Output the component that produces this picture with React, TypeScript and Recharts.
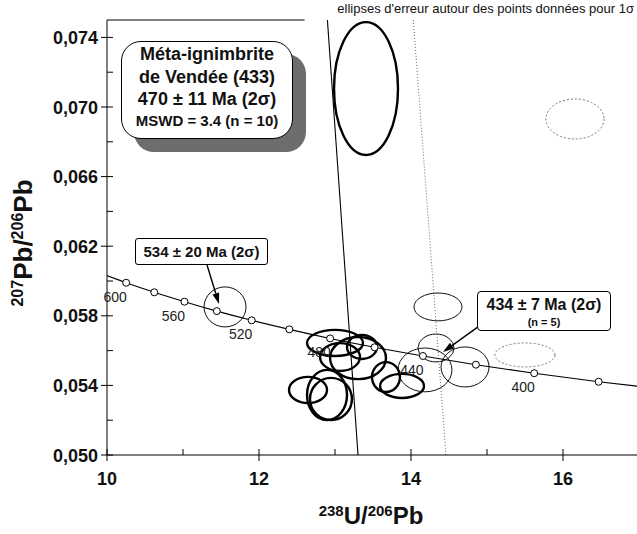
import React from 'react';
import { ComposedChart, Line, Scatter, XAxis, YAxis, ReferenceArea, ReferenceLine, ReferenceDot } from 'recharts';

// concordia (Tera-Wasserburg), ages in Ma
const concordiaAge = [620, 600, 580, 560, 540, 520, 500, 480, 460, 440, 420, 400, 380, 360];
const concordiaU = [9.906, 10.252, 10.622, 11.019, 11.445, 11.904, 12.399, 12.936, 13.52, 14.157, 14.854, 15.621, 16.469, 17.411];
const concordiaPb = [0.06046, 0.0599, 0.05935, 0.05881, 0.05827, 0.05774, 0.05722, 0.0567, 0.05619, 0.05569, 0.05519, 0.0547, 0.05421, 0.05374];
const labelledAges = [600, 560, 520, 480, 440, 400];
const markerAges = [600, 580, 560, 540, 520, 500, 480, 460, 440, 420, 400, 380];

// ellipses: [centre U/Pb, centre Pb/Pb, half width, half height]
const grains470: number[][] = [
  [13.408, 0.07106, 0.421, 0.00382],
  [13.0, 0.05644, 0.368, 0.00075],
  [13.066, 0.05563, 0.263, 0.0008],
  [13.303, 0.05557, 0.368, 0.00121],
  [13.355, 0.05621, 0.197, 0.00069],
  [12.645, 0.05374, 0.25, 0.00075],
  [12.895, 0.05345, 0.263, 0.00144],
  [12.947, 0.05322, 0.276, 0.00121],
  [13.671, 0.05448, 0.184, 0.00086],
  [13.882, 0.05397, 0.289, 0.00069],
];
const grains434: number[][] = [
  [14.355, 0.05851, 0.316, 0.0008],
  [14.329, 0.05615, 0.237, 0.0008],
  [14.184, 0.05489, 0.355, 0.00126],
  [14.711, 0.05506, 0.316, 0.00115],
];
const grain534: number[][] = [[11.553, 0.05851, 0.276, 0.00115]];
const grainsRejected: number[][] = [
  [15.5, 0.05575, 0.395, 0.00069],
  [16.158, 0.06931, 0.382, 0.00115],
];

const discordia470 = [{ x: 12.9, y: 0.075 }, { x: 13.303, y: 0.05 }];
const discordia434 = [{ x: 14.03, y: 0.075 }, { x: 14.46, y: 0.05 }];
const frameTop = [{ x: 10, y: 0.075 }, { x: 12.6, y: 0.075 }];
const arrow534 = [{ x: 11.316, y: 0.06092 }, { x: 11.474, y: 0.05868 }];
const arrow434 = [{ x: 14.882, y: 0.05736 }, { x: 14.421, y: 0.05592 }];

const xTicks = [10, 11, 12, 13, 14, 15, 16, 17];
const yTicks = [0.05, 0.052, 0.054, 0.056, 0.058, 0.06, 0.062, 0.064, 0.066, 0.068, 0.07, 0.072, 0.074];

const FONT = '"Liberation Sans", Arial, Helvetica, sans-serif';

const curve = concordiaAge.map((a, i) => ({ age: a, x: concordiaU[i], y: concordiaPb[i] }));
const markers = curve.filter((d) => markerAges.includes(d.age));
const ageLabels = curve.filter((d) => labelledAges.includes(d.age));

function YTick(props: any) {
  const { x, y, payload } = props;
  const v = payload.value;
  const major = Math.round(v * 1000) % 4 === 2;
  return (
    <g>
      <line x1={major ? x - 6 : x} x2={x + 6} y1={y} y2={y} stroke="#000" strokeWidth={1} />
      {major && (
        <text x={x - 9} y={y + 6.5} textAnchor="end" fontSize={18} fontWeight="bold" fill="#111" fontFamily={FONT}>
          {v.toFixed(3).replace('.', ',')}
        </text>
      )}
    </g>
  );
}

function XTick(props: any) {
  const { x, y, payload } = props;
  const v = payload.value;
  const major = v % 2 === 0;
  return (
    <g>
      <line x1={x} x2={x} y1={y - 6} y2={major ? y + 6 : y} stroke="#000" strokeWidth={1} />
      {major && (
        <text x={x} y={y + 30} textAnchor="middle" fontSize={18} fontWeight="bold" fill="#111" fontFamily={FONT}>
          {v}
        </text>
      )}
    </g>
  );
}

const ellipseShape = (stroke: string, sw: number, dash?: string) => (p: any) => (
  <ellipse
    cx={p.x + p.width / 2}
    cy={p.y + p.height / 2}
    rx={Math.abs(p.width) / 2}
    ry={Math.abs(p.height) / 2}
    fill="none"
    stroke={stroke}
    strokeWidth={sw}
    strokeDasharray={dash}
  />
);

const Arrow = (p: any) => {
  const { x1, y1, x2, y2 } = p;
  const a = Math.atan2(y2 - y1, x2 - x1);
  const L = 11;
  const w = 3.5;
  const bx = x2 - L * Math.cos(a);
  const by = y2 - L * Math.sin(a);
  const pts = `${x2},${y2} ${bx + w * Math.sin(a)},${by - w * Math.cos(a)} ${bx - w * Math.sin(a)},${by + w * Math.cos(a)}`;
  return (
    <g>
      <line x1={x1} y1={y1} x2={bx} y2={by} stroke="#000" strokeWidth={1.4} />
      <polygon points={pts} fill="#000" />
    </g>
  );
};

const MarkerShape = (p: any) => <circle cx={p.cx} cy={p.cy} r={3.5} fill="#fff" stroke="#000" strokeWidth={1} />;

const ageLabel = (text: string) => (p: any) => (
  <text x={p.cx - 11} y={p.cy + 19} textAnchor="middle" fontSize={14} fill="#222" fontFamily={FONT}>
    {text}
  </text>
);

function ellipses(list: number[][], key: string, shape: any) {
  return list.map((e, i) => (
    <ReferenceArea
      key={key + i}
      x1={e[0] - e[2]}
      x2={e[0] + e[2]}
      y1={e[1] - e[3]}
      y2={e[1] + e[3]}
      ifOverflow="visible"
      shape={shape}
    />
  ));
}

const YTitle = () => (
  <text transform="translate(32,243) rotate(-90)" textAnchor="middle" fontWeight="bold" fill="#111" fontFamily={FONT}>
    <tspan fontSize={16} dy={-9}>207</tspan>
    <tspan fontSize={26} dy={9}>Pb/</tspan>
    <tspan fontSize={16} dy={-9}>206</tspan>
    <tspan fontSize={26} dy={9}>Pb</tspan>
  </text>
);

const XTitle = () => (
  <text x={371} y={524} textAnchor="middle" fontWeight="bold" fill="#111" fontFamily={FONT}>
    <tspan fontSize={15} dy={-8}>238</tspan>
    <tspan fontSize={24} dy={8}>U/</tspan>
    <tspan fontSize={15} dy={-8}>206</tspan>
    <tspan fontSize={24} dy={8}>Pb</tspan>
  </text>
);

export default function App() {
  return (
    <div style={{ position: 'absolute', left: 0, top: 0, width: 637, height: 534, overflow: 'hidden', background: '#fff', fontFamily: FONT }}>
      <ComposedChart width={641} height={534} margin={{ top: 20, right: 2, bottom: 0, left: 0 }}>
        <XAxis
          type="number"
          dataKey="x"
          domain={[10, 17]}
          ticks={xTicks}
          interval={0}
          allowDataOverflow
          height={79}
          tickSize={0}
          tickMargin={0}
          tick={<XTick />}
          stroke="#000"
          label={{ content: () => <XTitle /> }}
        />
        <YAxis
          type="number"
          dataKey="y"
          domain={[0.05, 0.075]}
          ticks={yTicks}
          interval={0}
          allowDataOverflow
          width={107}
          tickSize={0}
          tickMargin={0}
          tick={<YTick />}
          stroke="#000"
          label={{ content: () => <YTitle /> }}
        />
        <ReferenceLine segment={frameTop} stroke="#000" strokeWidth={1} ifOverflow="visible" />
        <ReferenceLine segment={discordia470} stroke="#000" strokeWidth={1.1} ifOverflow="visible" />
        <ReferenceLine segment={discordia434} stroke="#555" strokeWidth={0.9} strokeDasharray="1 2" ifOverflow="visible" />
        <Line data={curve} dataKey="y" type="monotone" stroke="#000" strokeWidth={1.1} dot={false} isAnimationActive={false} />
        {ageLabels.map((d) => (
          <ReferenceDot key={'l' + d.age} x={d.x} y={d.y} r={0} ifOverflow="visible" shape={ageLabel(String(d.age))} />
        ))}
        {ellipses(grainsRejected, 'r', ellipseShape('#777', 1, '2 2'))}
        {ellipses(grain534, 'o', ellipseShape('#111', 1))}
        {ellipses(grains434, 't', ellipseShape('#111', 1))}
        {ellipses(grains470, 'm', ellipseShape('#000', 2.4))}
        <Scatter data={markers} dataKey="y" shape={<MarkerShape />} isAnimationActive={false} />
        <ReferenceLine segment={arrow534} ifOverflow="visible" shape={<Arrow />} />
        <ReferenceLine segment={arrow434} ifOverflow="visible" shape={<Arrow />} />
      </ComposedChart>

      <div style={{ position: 'absolute', right: 3, top: 2, fontSize: 13, lineHeight: '14px', color: '#111', background: '#fff', whiteSpace: 'nowrap' }}>
        ellipses d'erreur autour des points données pour 1σ
      </div>

      <div
        style={{
          position: 'absolute', left: 121, top: 41, width: 172, height: 98, boxSizing: 'border-box',
          border: '1.5px solid #000', borderRadius: 20, background: '#fff', boxShadow: '13px 13px 0 #6d6d6d',
          textAlign: 'center', fontWeight: 'bold', color: '#111', paddingTop: 1,
        }}
      >
        <div style={{ fontSize: 18, lineHeight: '22.5px' }}>Méta-ignimbrite</div>
        <div style={{ fontSize: 18, lineHeight: '22.5px' }}>de Vendée (433)</div>
        <div style={{ fontSize: 18, lineHeight: '22.5px' }}>470 ± 11 Ma (2σ)</div>
        <div style={{ fontSize: 15, lineHeight: '20px' }}>MSWD = 3.4 (n = 10)</div>
      </div>

      <div
        style={{
          position: 'absolute', left: 135, top: 238, width: 133, height: 27, boxSizing: 'border-box',
          border: '1px solid #000', borderRadius: 3, background: '#fff',
          textAlign: 'center', fontWeight: 'bold', color: '#111', fontSize: 15, lineHeight: '25px',
        }}
      >
        534 ± 20 Ma (2σ)
      </div>

      <div
        style={{
          position: 'absolute', left: 477, top: 291, width: 134, height: 40, boxSizing: 'border-box',
          border: '1px solid #000', borderRadius: 4, background: '#fff',
          textAlign: 'center', fontWeight: 'bold', color: '#111', paddingTop: 4,
        }}
      >
        <div style={{ fontSize: 16, lineHeight: '18px' }}>434 ± 7 Ma (2σ)</div>
        <div style={{ fontSize: 11, lineHeight: '16px' }}>(n = 5)</div>
      </div>
    </div>
  );
}
